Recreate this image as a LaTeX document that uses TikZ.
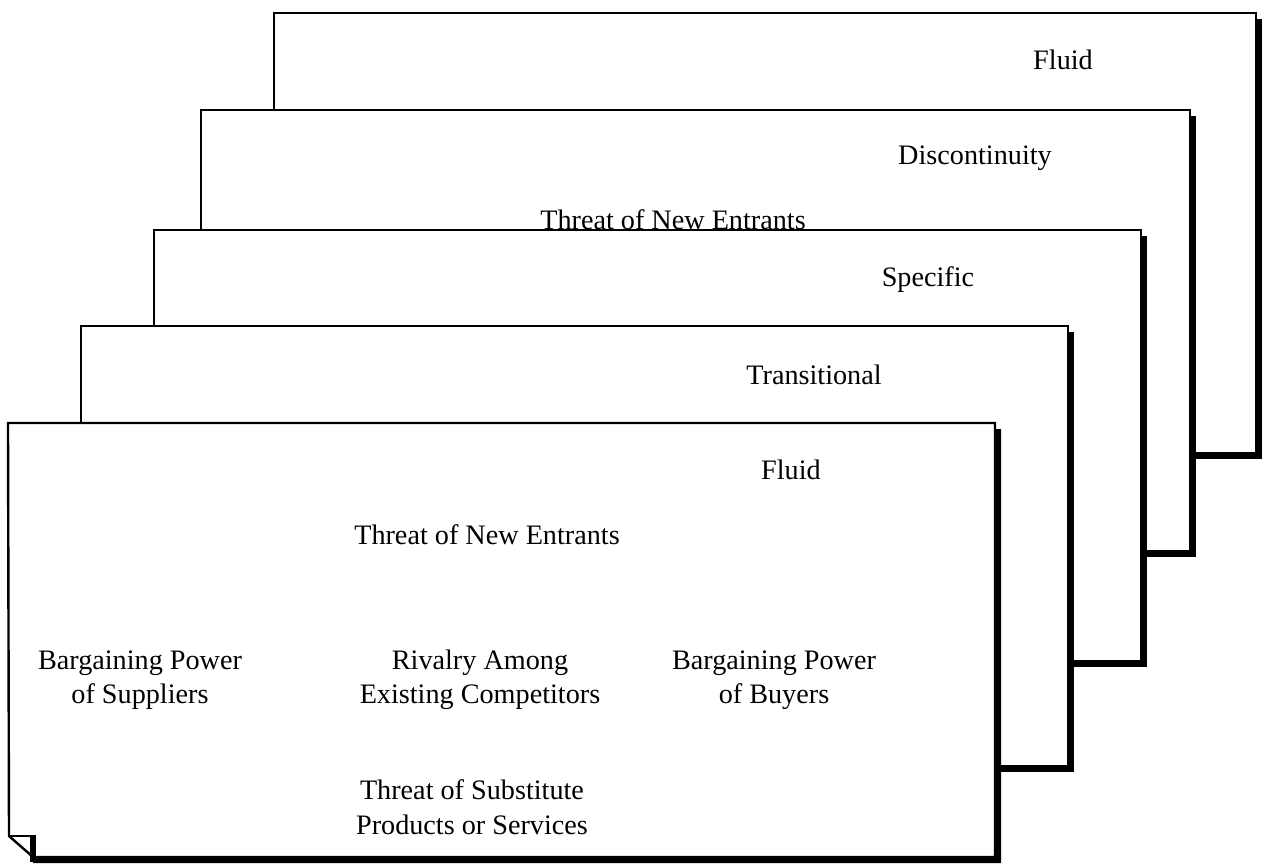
\documentclass[tikz,border=0pt]{standalone}
\usepackage{fontspec}
\setmainfont{Liberation Serif}
\begin{document}
\begin{tikzpicture}[x=1pt,y=-1pt,
  card/.style={fill=white,draw=black,line width=2.4pt,line join=miter},
  shadowbox/.style={fill=black},
  lbl/.style={font=\fontsize{28.2}{34.5}\selectfont, align=center, inner sep=0pt, anchor=center}]
\useasboundingbox (0,0) rectangle (1270,865);
% card 1 (back)
\fill[shadowbox] (280,19) rectangle (1262,459);
\filldraw[card] (274,13) rectangle (1256,453);
\node[lbl] (f1) at (1063,60) {Fluid};
% card 2
\fill[shadowbox] (207,116) rectangle (1196,557);
\filldraw[card] (201,110) rectangle (1190,551);
\node[lbl] (d2) at (975,158) {Discontinuity};
\node[lbl] (t2) at (673,220) {Threat of New Entrants};
% card 3
\fill[shadowbox] (160,236) rectangle (1147,667);
\filldraw[card] (154,230) rectangle (1141,661);
\node[lbl] (s3) at (928,280) {Specific};
% card 4
\fill[shadowbox] (87,332) rectangle (1074,772);
\filldraw[card] (81,326) rectangle (1068,766);
\node[lbl] (t4) at (814,375) {Transitional};
% card 5 (front) with folded corner
\fill[shadowbox] (995,429) -- (1001,429) -- (1001,863) -- (33,863) -- (33,857) -- (995,857) -- cycle;
\filldraw[card] (8,423) -- (995,423) -- (995,857) -- (33,857) -- (9,836) -- cycle;
\draw[line width=2.4pt,line join=miter] (9,836) -- (33,836);
\fill[black] (30,835) rectangle (36,862);
\node[lbl] (f5) at (791,470) {Fluid};
\node[lbl] (tn) at (487,535) {Threat of New Entrants};
\node[lbl] (bs) at (140,680) {Bargaining Power\\of Suppliers};
\node[lbl] (ra) at (480,680) {Rivalry Among\\Existing Competitors};
\node[lbl] (bb) at (774,680) {Bargaining Power\\of Buyers};
\node[lbl] (ts) at (472,807) {Threat of Substitute\\Products or Services};
\end{tikzpicture}
\end{document}
